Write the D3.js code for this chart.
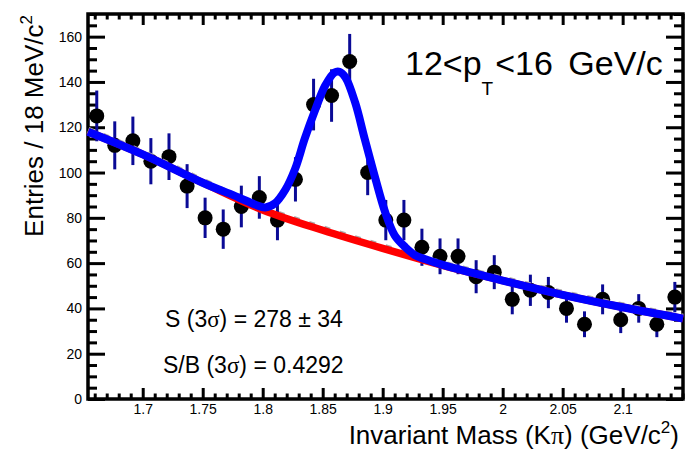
<!DOCTYPE html>
<html>
<head>
<meta charset="utf-8">
<script src="https://cdn.jsdelivr.net/npm/d3@7"></script>
<style>
  html, body { margin: 0; padding: 0; background: #fff; }
  svg { display: block; font-family: "Liberation Sans", Arial, sans-serif; }
  .tick text { font-family: "Liberation Sans", Arial, sans-serif; fill: #000; }
</style>
</head>
<body>
<div class="chart"></div>
<script>
// Bin centres (GeV/c^2) and entries
const massBins = [1.6617, 1.6767, 1.6918, 1.7068, 1.7219, 1.7370, 1.7520, 1.7671, 1.7822, 1.7972,
                  1.8123, 1.8273, 1.8424, 1.8574, 1.8725, 1.8875, 1.9026, 1.9177, 1.9327, 1.9478,
                  1.9628, 1.9779, 1.9930, 2.0080, 2.0231, 2.0381, 2.0532, 2.0682, 2.0833, 2.0984,
                  2.1134, 2.1285, 2.1435];
const entries = [125, 112, 114, 105, 107, 94, 80, 75, 85, 89,
                 79, 97, 130, 134, 149, 100, 79, 79, 67, 63,
                 63, 54, 56, 44, 48, 47, 40, 33, 44, 35,
                 40, 33, 45];
const errors = [11.2, 10.6, 10.7, 10.2, 10.3, 9.7, 8.9, 8.7, 9.2, 9.4,
                8.9, 9.8, 11.4, 11.6, 12.2, 10.0, 8.9, 8.9, 8.2, 7.9,
                7.9, 7.3, 7.5, 6.6, 6.9, 6.9, 6.3, 5.7, 6.6, 5.9,
                6.3, 5.7, 6.7];

// Background fit (red)
const bgX = [1.6544, 1.70, 1.75, 1.80, 1.85, 1.90, 1.95, 2.00, 2.05, 2.10, 2.1503];
const bgY = [118, 108, 95.5, 83.5, 74.5, 66.5, 59, 52.3, 46, 40.5, 35.5];

// Signal + background fit (blue)
const fitX = [1.6544, 1.70, 1.75, 1.78, 1.794, 1.802, 1.810, 1.819, 1.827, 1.835, 1.844, 1.852,
              1.860, 1.864, 1.869, 1.877, 1.885, 1.894, 1.902, 1.910, 1.919, 1.927, 1.935,
              1.95, 2.00, 2.05, 2.10, 2.1503];
const fitY = [118, 108, 95.5, 89, 85.8, 84.6, 86.3, 92.5, 101.6, 114.9, 128, 138.3,
              144.2, 144.5, 142, 131, 114.9, 97.2, 82.6, 72.3, 67, 63.5, 61.8,
              59.2, 52.3, 46, 40.5, 35.5];

const xMajor = [1.7, 1.75, 1.8, 1.85, 1.9, 1.95, 2.0, 2.05, 2.1];
const yMajor = [0, 20, 40, 60, 80, 100, 120, 140, 160];

const width = 689, height = 449;
const frame = { left: 88, top: 14, right: 683, bottom: 399 };

const svg = d3.select('.chart').append('svg')
    .attr('width', width)
    .attr('height', height);

const x = d3.scaleLinear().domain([1.6544, 2.1503]).range([frame.left, frame.right]);
const y = d3.scaleLinear().domain([0, 170]).range([frame.bottom, frame.top]);

// minor ticks: 0.01 on x, 5 on y
const xMinor = d3.range(1.66, 2.151, 0.01).map(v => +v.toFixed(2)).filter(v => !xMajor.includes(v));
const yMinor = d3.range(5, 171, 5).filter(v => v % 20 !== 0);

function styleAxis(g) {
    g.select('.domain').remove();
    g.selectAll('.tick line').attr('stroke', '#000').attr('stroke-width', 3);
}

// x axis, bottom with labels, top mirrored
svg.append('g')
    .attr('transform', `translate(0,${frame.bottom})`)
    .call(d3.axisBottom(x).tickValues(xMajor).tickSize(-11).tickPadding(5)
        .tickFormat(d => String(+d.toFixed(2))))
    .call(styleAxis)
    .selectAll('text').attr('font-size', 14);
svg.append('g')
    .attr('transform', `translate(0,${frame.bottom})`)
    .call(d3.axisBottom(x).tickValues(xMinor).tickSize(-5.5).tickFormat(''))
    .call(styleAxis);
svg.append('g')
    .attr('transform', `translate(0,${frame.top})`)
    .call(d3.axisTop(x).tickValues(xMajor).tickSize(-11).tickFormat(''))
    .call(styleAxis);
svg.append('g')
    .attr('transform', `translate(0,${frame.top})`)
    .call(d3.axisTop(x).tickValues(xMinor).tickSize(-5.5).tickFormat(''))
    .call(styleAxis);

// y axis, left with labels, right mirrored
svg.append('g')
    .attr('transform', `translate(${frame.left},0)`)
    .call(d3.axisLeft(y).tickValues(yMajor).tickSize(-17).tickPadding(6))
    .call(styleAxis)
    .selectAll('text').attr('font-size', 14);
svg.append('g')
    .attr('transform', `translate(${frame.left},0)`)
    .call(d3.axisLeft(y).tickValues(yMinor).tickSize(-9).tickFormat(''))
    .call(styleAxis);
svg.append('g')
    .attr('transform', `translate(${frame.right},0)`)
    .call(d3.axisRight(y).tickValues(yMajor).tickSize(-17).tickFormat(''))
    .call(styleAxis);
svg.append('g')
    .attr('transform', `translate(${frame.right},0)`)
    .call(d3.axisRight(y).tickValues(yMinor).tickSize(-9).tickFormat(''))
    .call(styleAxis);

svg.append('rect')
    .attr('x', frame.left).attr('y', frame.top)
    .attr('width', frame.right - frame.left).attr('height', frame.bottom - frame.top)
    .attr('fill', 'none').attr('stroke', '#000').attr('stroke-width', 3.5);

// data points with error bars
const points = massBins.map((m, i) => ({ m, n: entries[i], e: errors[i] }));
const plot = svg.append('g');

plot.selectAll('line.err')
    .data(points)
    .enter()
    .append('line')
    .attr('class', 'err')
    .attr('x1', d => x(d.m)).attr('x2', d => x(d.m))
    .attr('y1', d => y(d.n - d.e)).attr('y2', d => y(d.n + d.e))
    .attr('stroke', '#0a0a96')
    .attr('stroke-width', 3);

plot.selectAll('circle')
    .data(points)
    .enter()
    .append('circle')
    .attr('cx', d => x(d.m))
    .attr('cy', d => y(d.n))
    .attr('r', 7.5)
    .attr('fill', '#000');

// fit curves
const line = d3.line().x(d => x(d[0])).y(d => y(d[1])).curve(d3.curveCatmullRom);
const bgPts = bgX.map((v, i) => [v, bgY[i]]);
const fitPts = fitX.map((v, i) => [v, fitY[i]]);

plot.append('path')
    .attr('d', line(bgPts))
    .attr('fill', 'none')
    .attr('stroke', '#aaaaaa')
    .attr('stroke-width', 7)
    .attr('stroke-dasharray', '6 10')
    .attr('transform', 'translate(0,-1.5)');

plot.append('path')
    .attr('d', line(bgPts))
    .attr('fill', 'none')
    .attr('stroke', '#ff0000')
    .attr('stroke-width', 7.5);

plot.append('path')
    .attr('d', line(fitPts))
    .attr('fill', 'none')
    .attr('stroke', '#0000ff')
    .attr('stroke-width', 8)
    .attr('stroke-linejoin', 'round');

// titles
const yTitle = svg.append('text')
    .attr('transform', 'translate(43,15) rotate(-90)')
    .attr('text-anchor', 'end')
    .attr('font-size', 26);
yTitle.append('tspan').text('Entries / 18 MeV/c');
yTitle.append('tspan').attr('font-size', 17).attr('dy', -11).text('2');

const xTitle = svg.append('text')
    .attr('x', 679).attr('y', 444)
    .attr('text-anchor', 'end')
    .attr('font-size', 26);
xTitle.append('tspan').text('Invariant Mass (K');
xTitle.append('tspan').attr('font-family', '"Liberation Serif", serif').text('π');
xTitle.append('tspan').text(') (GeV/c');
xTitle.append('tspan').attr('font-size', 17).attr('dy', -11).text('2');
xTitle.append('tspan').attr('dy', 11).text(')');

// pT bin label
const ptLabel = svg.append('text')
    .attr('x', 405).attr('y', 75)
    .attr('font-size', 34);
ptLabel.append('tspan').text('12<p');
ptLabel.append('tspan').attr('font-size', 19).attr('dy', 20).text('T');
ptLabel.append('tspan').attr('dy', -20).attr('dx', 2).text('<16');
ptLabel.append('tspan').attr('dx', 6).text(' GeV/c');

// signal annotations
const sText = svg.append('text').attr('x', 165).attr('y', 327).attr('font-size', 23);
sText.append('tspan').text('S (3');
sText.append('tspan').attr('font-family', '"Liberation Serif", serif').text('σ');
sText.append('tspan').text(') = 278 ± 34');

const sbText = svg.append('text').attr('x', 163).attr('y', 373).attr('font-size', 23);
sbText.append('tspan').text('S/B (3');
sbText.append('tspan').attr('font-family', '"Liberation Serif", serif').text('σ');
sbText.append('tspan').text(') = 0.4292');
</script>
</body>
</html>
